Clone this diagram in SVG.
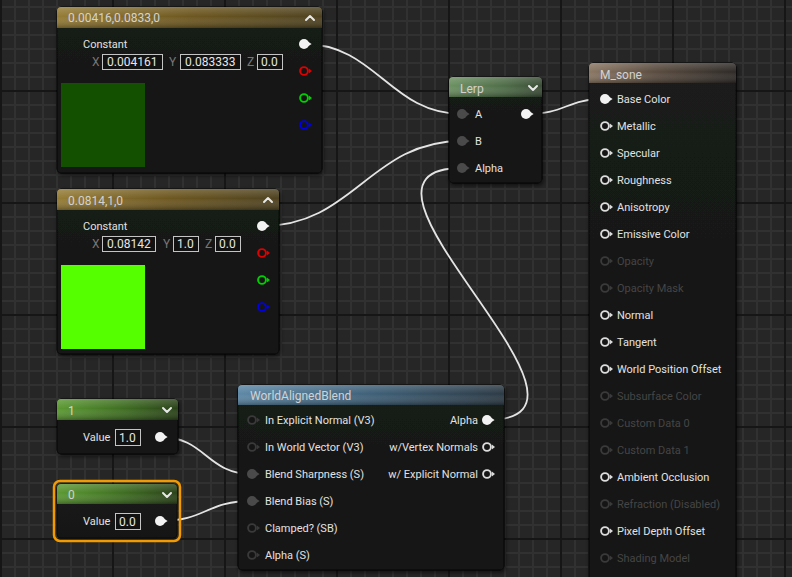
<svg xmlns="http://www.w3.org/2000/svg" width="792" height="577" viewBox="0 0 792 577">
<defs>
<pattern id="minor" patternUnits="userSpaceOnUse" x="0" y="6" width="14" height="14">
<rect width="14" height="14" fill="#262626"/>
<rect x="0" y="0" width="14" height="2" fill="#313131"/>
<rect x="0" y="0" width="2" height="14" fill="#313131"/>
</pattern>
<pattern id="major" patternUnits="userSpaceOnUse" x="0" y="90" width="112" height="112">
<rect x="0" y="0" width="112" height="2" fill="#161616"/>
<rect x="0" y="0" width="2" height="112" fill="#161616"/>
</pattern>
<linearGradient id="gGold" x1="0" y1="0" x2="1" y2="0">
<stop offset="0" stop-color="#957c36"/><stop offset="0.5" stop-color="#6e5821"/><stop offset="1" stop-color="#4e4220"/>
</linearGradient>
<linearGradient id="gLerp" x1="0" y1="0" x2="1" y2="0">
<stop offset="0" stop-color="#6c9162"/><stop offset="0.6" stop-color="#4f6d48"/><stop offset="1" stop-color="#3a4c36"/>
</linearGradient>
<linearGradient id="gBrown" x1="0" y1="0" x2="1" y2="0">
<stop offset="0" stop-color="#8a7763"/><stop offset="0.45" stop-color="#5a4c40"/><stop offset="1" stop-color="#2e2a27"/>
</linearGradient>
<linearGradient id="gBlue" x1="0" y1="0" x2="1" y2="0">
<stop offset="0" stop-color="#5d88a6"/><stop offset="0.5" stop-color="#3f6078"/><stop offset="1" stop-color="#2c3a45"/>
</linearGradient>
<linearGradient id="gGreen" x1="0" y1="0" x2="1" y2="0">
<stop offset="0" stop-color="#5c9a33"/><stop offset="0.55" stop-color="#3f6e22"/><stop offset="1" stop-color="#2a4219"/>
</linearGradient>
<linearGradient id="gloss" x1="0" y1="0" x2="0" y2="1">
<stop offset="0" stop-color="#fff" stop-opacity="0.18"/><stop offset="0.45" stop-color="#fff" stop-opacity="0"/><stop offset="1" stop-color="#000" stop-opacity="0.3"/>
</linearGradient>
<linearGradient id="gBody" x1="0" y1="0" x2="0" y2="1">
<stop offset="0" stop-color="#1a1b1a"/><stop offset="1" stop-color="#141514"/>
</linearGradient>
<filter id="sh" x="-10%" y="-10%" width="120%" height="120%">
<feGaussianBlur in="SourceAlpha" stdDeviation="2"/>
<feOffset dx="1" dy="2"/>
<feComponentTransfer><feFuncA type="linear" slope="0.6"/></feComponentTransfer>
<feMerge><feMergeNode/><feMergeNode in="SourceGraphic"/></feMerge>
</filter>
<g id="pinF"><circle r="5"/><path d="M3.8,-2.6 L7.6,0 L3.8,2.6Z"/></g>
<g id="pinR"><circle r="3.9" fill="#151515" stroke-width="1.9"/><path d="M4.9,-2.5 L8,0 L4.9,2.5Z" stroke="none"/></g>
</defs>
<style>
text{font-family:Roboto,"Liberation Sans",sans-serif}
.body{fill:url(#gBody);stroke:#0a0a0a;stroke-width:1}
.title{font-size:12px;fill:#d2d2d2}
.lbl{font-size:11px;fill:#e2e2e2}
.dis{font-size:11px;fill:#454545}
.axis{font-size:12px;fill:#777}
.fld{fill:#121212;stroke:#c4c4c4;stroke-width:1}
.val{font-size:12px;fill:#e6e6e6}
.chev{fill:none;stroke:#e8e8e8;stroke-width:2;stroke-linecap:round;stroke-linejoin:round}
.wire{fill:none;stroke:#e4e4e4;stroke-width:1.8}
.pw{fill:#f2f2f2}
.pc{fill:#4a4a4a}
.rw{fill:#dcdcdc;stroke:#dcdcdc}
.rd{fill:#3a3a3a;stroke:#3a3a3a}
.rr{fill:#e00000;stroke:#e00000}
.rg{fill:#00d000;stroke:#00d000}
.rb{fill:#0000e0;stroke:#0000e0}
</style>
<rect width="792" height="577" fill="url(#minor)"/>
<rect width="792" height="577" fill="url(#major)"/>

<g id="connectors">
<path class="wire" d="M304,44 C376,44 390,114 462,114"/>
<path class="wire" d="M262,226 C354,226 370,141 462,141"/>
<path class="wire" d="M487,420 C637,420 312,168 462,168"/>
<path class="wire" d="M527,114 C566,114 566,99 605,99"/>
<path class="wire" d="M160,437 C206,437 206,474 252,474"/>
<path class="wire" d="M160,521 C206,521 206,501 252,501"/>
</g>

<g id="node-const1">
<rect class="body" x="57" y="7" width="265" height="166" rx="4" filter="url(#sh)"/>
<path d="M61,7 H318 A4,4 0 0 1 322,11 V28 H57 V11 A4,4 0 0 1 61,7Z" fill="url(#gGold)"/>
<path d="M61,7 H318 A4,4 0 0 1 322,11 V28 H57 V11 A4,4 0 0 1 61,7Z" fill="url(#gloss)"/>
<text class="title" x="68" y="22">0.00416,0.0833,0</text>
<polyline class="chev" points="306,20 310,16 314,20"/>
<text class="lbl" x="83" y="48">Constant</text>
<text class="axis" x="92" y="66">X</text>
<rect class="fld" x="102.5" y="54.5" width="60" height="15"/>
<text class="val" x="107" y="66">0.004161</text>
<text class="axis" x="169" y="66">Y</text>
<rect class="fld" x="180.5" y="54.5" width="60" height="15"/>
<text class="val" x="185" y="66">0.083333</text>
<text class="axis" x="247" y="66">Z</text>
<rect class="fld" x="257.5" y="54.5" width="25" height="15"/>
<text class="val" x="261" y="66">0.0</text>
<rect x="61" y="83" width="84" height="84" fill="#135000"/>
<use href="#pinF" x="304" y="44" class="pw"/>
<use href="#pinR" x="304" y="71" class="rr"/>
<use href="#pinR" x="304" y="98" class="rg"/>
<use href="#pinR" x="304" y="125" class="rb"/>
</g>

<g id="node-const2">
<rect class="body" x="57" y="189" width="222" height="165" rx="4" filter="url(#sh)"/>
<path d="M61,189 H275 A4,4 0 0 1 279,193 V210 H57 V193 A4,4 0 0 1 61,189Z" fill="url(#gGold)"/>
<path d="M61,189 H275 A4,4 0 0 1 279,193 V210 H57 V193 A4,4 0 0 1 61,189Z" fill="url(#gloss)"/>
<text class="title" x="68" y="205">0.0814,1,0</text>
<polyline class="chev" points="264,202 268,198 272,202"/>
<text class="lbl" x="83" y="230">Constant</text>
<text class="axis" x="92" y="248">X</text>
<rect class="fld" x="102.5" y="236.5" width="53" height="15"/>
<text class="val" x="107" y="248">0.08142</text>
<text class="axis" x="163" y="248">Y</text>
<rect class="fld" x="173.5" y="236.5" width="25" height="15"/>
<text class="val" x="177" y="248">1.0</text>
<text class="axis" x="205" y="248">Z</text>
<rect class="fld" x="215.5" y="236.5" width="25" height="15"/>
<text class="val" x="219" y="248">0.0</text>
<rect x="61" y="265" width="84" height="84" fill="#55ff00"/>
<use href="#pinF" x="262" y="226" class="pw"/>
<use href="#pinR" x="262" y="253" class="rr"/>
<use href="#pinR" x="262" y="280" class="rg"/>
<use href="#pinR" x="262" y="307" class="rb"/>
</g>

<g id="node-lerp">
<rect class="body" x="449" y="77" width="93" height="106" rx="4" filter="url(#sh)"/>
<path d="M453,77 H538 A4,4 0 0 1 542,81 V97 H449 V81 A4,4 0 0 1 453,77Z" fill="url(#gLerp)"/>
<path d="M453,77 H538 A4,4 0 0 1 542,81 V97 H449 V81 A4,4 0 0 1 453,77Z" fill="url(#gloss)"/>
<text class="title" x="460" y="93">Lerp</text>
<polyline class="chev" points="529,86 533,90 537,86"/>
<use href="#pinF" x="462" y="114" class="pc"/>
<text class="lbl" x="475" y="118">A</text>
<use href="#pinF" x="462" y="141" class="pc"/>
<text class="lbl" x="475" y="145">B</text>
<use href="#pinF" x="462" y="168" class="pc"/>
<text class="lbl" x="475" y="172">Alpha</text>
<use href="#pinF" x="526" y="114" class="pw"/>
</g>

<g id="node-msone">
<rect class="body" x="589" y="63" width="147" height="530" rx="4" filter="url(#sh)"/>
<path d="M593,63 H732 A4,4 0 0 1 736,67 V83 H589 V67 A4,4 0 0 1 593,63Z" fill="url(#gBrown)"/>
<path d="M593,63 H732 A4,4 0 0 1 736,67 V83 H589 V67 A4,4 0 0 1 593,63Z" fill="url(#gloss)"/>
<text class="title" x="600" y="79">M_sone</text>
<use href="#pinF" x="605" y="99" class="pw"/>
<text class="lbl" x="617" y="103">Base Color</text>
<use href="#pinR" x="605" y="126" class="rw"/>
<text class="lbl" x="617" y="130">Metallic</text>
<use href="#pinR" x="605" y="153" class="rw"/>
<text class="lbl" x="617" y="157">Specular</text>
<use href="#pinR" x="605" y="180" class="rw"/>
<text class="lbl" x="617" y="184">Roughness</text>
<use href="#pinR" x="605" y="207" class="rw"/>
<text class="lbl" x="617" y="211">Anisotropy</text>
<use href="#pinR" x="605" y="234" class="rw"/>
<text class="lbl" x="617" y="238">Emissive Color</text>
<use href="#pinR" x="605" y="261" class="rd"/>
<text class="dis" x="617" y="265">Opacity</text>
<use href="#pinR" x="605" y="288" class="rd"/>
<text class="dis" x="617" y="292">Opacity Mask</text>
<use href="#pinR" x="605" y="315" class="rw"/>
<text class="lbl" x="617" y="319">Normal</text>
<use href="#pinR" x="605" y="342" class="rw"/>
<text class="lbl" x="617" y="346">Tangent</text>
<use href="#pinR" x="605" y="369" class="rw"/>
<text class="lbl" x="617" y="373">World Position Offset</text>
<use href="#pinR" x="605" y="396" class="rd"/>
<text class="dis" x="617" y="400">Subsurface Color</text>
<use href="#pinR" x="605" y="423" class="rd"/>
<text class="dis" x="617" y="427">Custom Data 0</text>
<use href="#pinR" x="605" y="450" class="rd"/>
<text class="dis" x="617" y="454">Custom Data 1</text>
<use href="#pinR" x="605" y="477" class="rw"/>
<text class="lbl" x="617" y="481">Ambient Occlusion</text>
<use href="#pinR" x="605" y="504" class="rd"/>
<text class="dis" x="617" y="508">Refraction (Disabled)</text>
<use href="#pinR" x="605" y="531" class="rw"/>
<text class="lbl" x="617" y="535">Pixel Depth Offset</text>
<use href="#pinR" x="605" y="558" class="rd"/>
<text class="dis" x="617" y="562">Shading Model</text>
</g>

<g id="node-wab">
<rect class="body" x="238" y="385" width="266" height="185" rx="4" filter="url(#sh)"/>
<path d="M242,385 H500 A4,4 0 0 1 504,389 V405 H238 V389 A4,4 0 0 1 242,385Z" fill="url(#gBlue)"/>
<path d="M242,385 H500 A4,4 0 0 1 504,389 V405 H238 V389 A4,4 0 0 1 242,385Z" fill="url(#gloss)"/>
<text class="title" x="250" y="400">WorldAlignedBlend</text>
<use href="#pinR" x="252" y="420" class="rd"/>
<text class="lbl" x="265" y="424">In Explicit Normal (V3)</text>
<use href="#pinR" x="252" y="447" class="rd"/>
<text class="lbl" x="265" y="451">In World Vector (V3)</text>
<use href="#pinF" x="252" y="474" class="pc"/>
<text class="lbl" x="265" y="478">Blend Sharpness (S)</text>
<use href="#pinF" x="252" y="501" class="pc"/>
<text class="lbl" x="265" y="505">Blend Bias (S)</text>
<use href="#pinR" x="252" y="528" class="rd"/>
<text class="lbl" x="265" y="532">Clamped? (SB)</text>
<use href="#pinR" x="252" y="555" class="rd"/>
<text class="lbl" x="265" y="559">Alpha (S)</text>
<text class="lbl" x="478" y="424" text-anchor="end">Alpha</text>
<use href="#pinF" x="487" y="420" class="pw"/>
<text class="lbl" x="478" y="451" text-anchor="end">w/Vertex Normals</text>
<use href="#pinR" x="487" y="447" class="rw"/>
<text class="lbl" x="478" y="478" text-anchor="end">w/ Explicit Normal</text>
<use href="#pinR" x="487" y="474" class="rw"/>
</g>

<g id="node-one">
<rect class="body" x="57" y="399" width="121" height="55" rx="4" filter="url(#sh)"/>
<path d="M61,399 H174 A4,4 0 0 1 178,403 V420 H57 V403 A4,4 0 0 1 61,399Z" fill="url(#gGreen)"/>
<path d="M61,399 H174 A4,4 0 0 1 178,403 V420 H57 V403 A4,4 0 0 1 61,399Z" fill="url(#gloss)"/>
<text class="title" x="68" y="415">1</text>
<polyline class="chev" points="163,408 167,412 171,408"/>
<text class="lbl" x="83" y="441">Value</text>
<rect class="fld" x="115.5" y="429.5" width="25" height="16"/>
<text class="val" x="119" y="442">1.0</text>
<use href="#pinF" x="160" y="437" class="pw"/>
</g>

<g id="node-zero">
<rect x="54" y="481" width="126" height="60" rx="6" fill="none" stroke="#f29a00" stroke-width="2.5"/>
<rect class="body" x="57" y="484" width="120" height="54" rx="4"/>
<path d="M61,484 H173 A4,4 0 0 1 177,488 V504 H57 V488 A4,4 0 0 1 61,484Z" fill="url(#gGreen)"/>
<path d="M61,484 H173 A4,4 0 0 1 177,488 V504 H57 V488 A4,4 0 0 1 61,484Z" fill="url(#gloss)"/>
<text class="title" x="68" y="499">0</text>
<polyline class="chev" points="163,493 167,497 171,493"/>
<text class="lbl" x="83" y="525">Value</text>
<rect class="fld" x="115.5" y="513.5" width="25" height="16"/>
<text class="val" x="119" y="526">0.0</text>
<use href="#pinF" x="160" y="521" class="pw"/>
</g>
</svg>
